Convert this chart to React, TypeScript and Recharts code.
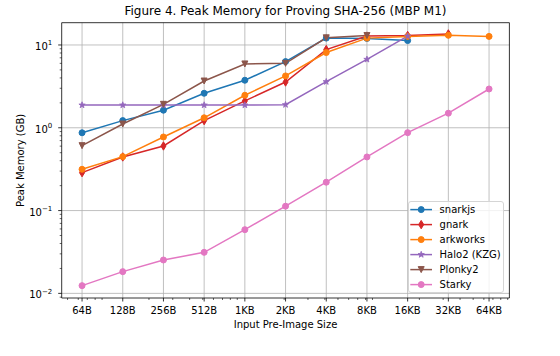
import React from 'react';
import { LineChart, Line, XAxis, YAxis, CartesianGrid, Legend } from 'recharts';

// ---- data ----
const sizeLabels = ['64B', '128B', '256B', '512B', '1KB', '2KB', '4KB', '8KB', '16KB', '32KB', '64KB'];
const sizeBytes = [64, 128, 256, 512, 1024, 2048, 4096, 8192, 16384, 32768, 65536];

const snarkjs = [0.87, 1.22, 1.63, 2.61, 3.75, 6.3, 12.1, 12.0, 11.3, null, null];
const gnark = [0.287, 0.444, 0.603, 1.22, 2.11, 3.57, 8.8, 12.8, 13.0, 13.6, null];
const arkworks = [0.315, 0.448, 0.774, 1.32, 2.47, 4.23, 8.1, 12.1, 12.7, 13.1, 12.7];
const halo2 = [1.88, 1.88, 1.88, 1.88, 1.88, 1.9, 3.6, 6.7, 12.8, null, null];
const plonky2 = [0.608, 1.11, 1.92, 3.67, 5.9, 6.0, 12.2, 13.0, null, null, null];
const starky = [0.0124, 0.0183, 0.0253, 0.0313, 0.0588, 0.113, 0.22, 0.444, 0.873, 1.5, 2.94];

const yMajorTicks = [0.01, 0.1, 1, 10];
const yMinorTicks = [
  0.009,
  0.02, 0.03, 0.04, 0.05, 0.06, 0.07, 0.08, 0.09,
  0.2, 0.3, 0.4, 0.5, 0.6, 0.7, 0.8, 0.9,
  2, 3, 4, 5, 6, 7, 8, 9,
];
const xMinorBytes = [
  50, 60, 70, 80, 90,
  200, 300, 400, 500, 600, 700, 800, 900,
  2000, 3000, 4000, 5000, 6000, 7000, 8000, 9000,
  20000, 30000, 40000, 50000, 60000, 70000, 80000, 90000,
];

// ---- layout / style ----
const W = 560;
const H = 356;
const X_DOMAIN: [number, number] = [-0.5, 10.5];
const Y_DOMAIN: [number, number] = [0.00879, 18.58];
const FONT = '"DejaVu Sans", sans-serif';

const series = [
  { key: 'snarkjs', name: 'snarkjs', color: '#1f77b4', marker: 'circle', values: snarkjs },
  { key: 'gnark', name: 'gnark', color: '#d62728', marker: 'thin_diamond', values: gnark },
  { key: 'arkworks', name: 'arkworks', color: '#ff7f0e', marker: 'circle', values: arkworks },
  { key: 'halo2', name: 'Halo2 (KZG)', color: '#9467bd', marker: 'star', values: halo2 },
  { key: 'plonky2', name: 'Plonky2', color: '#8c564b', marker: 'triangle_down', values: plonky2 },
  { key: 'starky', name: 'Starky', color: '#e377c2', marker: 'circle', values: starky },
];

const data = sizeLabels.map((label, i) => {
  const row: Record<string, any> = { i, label };
  series.forEach((s) => {
    row[s.key] = s.values[i];
  });
  return row;
});

const xMajorIdx = sizeBytes.map((_, i) => i);
const xMinorIdx = xMinorBytes
  .map((b) => Math.log2(b / sizeBytes[0]))
  .filter((v) => v > X_DOMAIN[0] && v < X_DOMAIN[1]);
const xTicks = [...xMajorIdx, ...xMinorIdx];
const yTicks = [...yMajorTicks, ...yMinorTicks].filter((v) => v >= Y_DOMAIN[0] && v <= Y_DOMAIN[1]);

// ---- markers ----
const MarkerShape = ({ shape, color, cx, cy }: { shape: string; color: string; cx: number; cy: number }) => {
  if (shape === 'circle') {
    return <circle cx={cx} cy={cy} r={3} fill={color} stroke={color} strokeWidth={1} />;
  }
  if (shape === 'thin_diamond') {
    const h = 4.2;
    const w = 2.55;
    return (
      <polygon
        points={`${cx},${cy - h} ${cx + w},${cy} ${cx},${cy + h} ${cx - w},${cy}`}
        fill={color}
        stroke={color}
        strokeWidth={1}
      />
    );
  }
  if (shape === 'triangle_down') {
    const s = 3;
    return (
      <polygon
        points={`${cx - s},${cy - s} ${cx + s},${cy - s} ${cx},${cy + s}`}
        fill={color}
        stroke={color}
        strokeWidth={1}
      />
    );
  }
  // star
  const outer = 3.3;
  const inner = 1.35;
  const pts: string[] = [];
  for (let k = 0; k < 10; k++) {
    const r = k % 2 === 0 ? outer : inner;
    const a = -Math.PI / 2 + (k * Math.PI) / 5;
    pts.push(`${cx + r * Math.cos(a)},${cy + r * Math.sin(a)}`);
  }
  return <polygon points={pts.join(' ')} fill={color} stroke={color} strokeWidth={0.8} />;
};

const makeDot = (key: string, shape: string, color: string) => (p: any) => {
  const { cx, cy, index, payload } = p;
  if (cx == null || cy == null || payload == null || payload[key] == null || Number.isNaN(cy)) {
    return <g key={`d-${key}-${index}`} />;
  }
  return <MarkerShape key={`d-${key}-${index}`} shape={shape} color={color} cx={cx} cy={cy} />;
};

// ---- ticks ----
const XTick = (props: any) => {
  const { x, y, payload } = props;
  const v = payload.value;
  const isMajor = Number.isInteger(v);
  return (
    <g>
      <line x1={x} x2={x} y1={y} y2={y + (isMajor ? 3.5 : 2)} stroke="#000" strokeWidth={isMajor ? 0.8 : 0.6} />
      {isMajor && (
        <text x={x} y={y + 16} textAnchor="middle" fontSize={10} fontFamily={FONT} fill="#000">
          {sizeLabels[v]}
        </text>
      )}
    </g>
  );
};

const YTick = (props: any) => {
  const { x, y, payload } = props;
  const v = payload.value;
  const isMajor = yMajorTicks.includes(v);
  const exp = Math.round(Math.log10(v));
  const expStr = exp < 0 ? `\u2212${-exp}` : `${exp}`;
  return (
    <g>
      <line x1={x} x2={x - (isMajor ? 3.5 : 2)} y1={y} y2={y} stroke="#000" strokeWidth={isMajor ? 0.8 : 0.6} />
      {isMajor && (
        <text x={x - 9.4} y={y + 5} textAnchor="end" fontSize={10} fontFamily={FONT} fill="#000">
          10
          <tspan dy={-4.5} fontSize={7}>
            {expStr}
          </tspan>
        </text>
      )}
    </g>
  );
};

// ---- legend ----
const LegendBox = () => {
  const w = 96.3;
  const h = 92.3;
  return (
    <div
      style={{
        width: w,
        height: h,
        boxSizing: 'border-box',
        background: 'rgba(255,255,255,0.8)',
        border: '1px solid #d5d5d5',
        borderRadius: 3,
        position: 'relative',
      }}
    >
      <svg width={w - 2} height={h - 2} style={{ position: 'absolute', left: 0, top: 0, overflow: 'visible' }}>
        {series.map((s, k) => {
          const cy = 7.6 + k * 15;
          return (
            <g key={s.key}>
              <line x1={1.3} x2={23} y1={cy} y2={cy} stroke={s.color} strokeWidth={1.5} />
              <MarkerShape shape={s.marker} color={s.color} cx={12.2} cy={cy} />
              <text x={30.6} y={cy + 3.6} fontSize={10} fontFamily={FONT} fill="#000">
                {s.name}
              </text>
            </g>
          );
        })}
      </svg>
    </div>
  );
};

export default function App() {
  return (
    <div style={{ position: 'absolute', left: 0, top: 0, width: W, height: H, background: '#fff' }}>
      <LineChart
        width={W}
        height={H}
        data={data}
        margin={{ top: 21.7, right: 49.6, bottom: 38, left: 21.7 }}
      >
        <CartesianGrid
          stroke="#b0b0b0"
          strokeWidth={0.8}
          horizontalValues={yMajorTicks}
          verticalValues={xMajorIdx}
        />
        <XAxis
          dataKey="i"
          type="number"
          domain={X_DOMAIN}
          allowDataOverflow
          ticks={xTicks}
          interval={0}
          tickLine={false}
          tickSize={0}
          tickMargin={0}
          tick={XTick}
          axisLine={{ stroke: '#000', strokeWidth: 0.8 }}
          height={20}
        />
        <YAxis
          type="number"
          scale="log"
          domain={Y_DOMAIN}
          allowDataOverflow
          ticks={yTicks}
          interval={0}
          tickLine={false}
          tickSize={0}
          tickMargin={0}
          tick={YTick}
          axisLine={{ stroke: '#000', strokeWidth: 0.8 }}
          width={40}
        />
        <XAxis
          xAxisId="top"
          orientation="top"
          type="number"
          domain={[0, 1]}
          tick={false}
          tickLine={false}
          axisLine={{ stroke: '#000', strokeWidth: 0.8 }}
          height={1}
        />
        <YAxis
          yAxisId="right"
          orientation="right"
          type="number"
          domain={[0, 1]}
          tick={false}
          tickLine={false}
          axisLine={{ stroke: '#000', strokeWidth: 0.8 }}
          width={1}
        />
        {series.map((s) => (
          <Line
            key={s.key}
            type="linear"
            dataKey={s.key}
            name={s.name}
            stroke={s.color}
            strokeWidth={1.5}
            dot={makeDot(s.key, s.marker, s.color)}
            activeDot={false}
            connectNulls={false}
            isAnimationActive={false}
          />
        ))}
        <Legend
          layout="vertical"
          align="center"
          verticalAlign="middle"
          wrapperStyle={{ position: 'absolute', left: 408, top: 200.7, width: 96.3, height: 92.3, margin: 0, padding: 0 }}
          content={() => <LegendBox />}
        />
      </LineChart>
      <svg
        width={W}
        height={H}
        style={{ position: 'absolute', left: 0, top: 0, pointerEvents: 'none', overflow: 'visible' }}
      >
        <text x={285.5} y={15.4} textAnchor="middle" fontSize={12} fontFamily={FONT} fill="#000">
          Figure 4. Peak Memory for Proving SHA-256 (MBP M1)
        </text>
        <text x={285.5} y={327.5} textAnchor="middle" fontSize={10} fontFamily={FONT} fill="#000">
          Input Pre-Image Size
        </text>
        <text
          x={0}
          y={0}
          transform={`translate(24.3, 160.4) rotate(-90)`}
          textAnchor="middle"
          fontSize={10}
          fontFamily={FONT}
          fill="#000"
        >
          Peak Memory (GB)
        </text>
      </svg>
    </div>
  );
}
